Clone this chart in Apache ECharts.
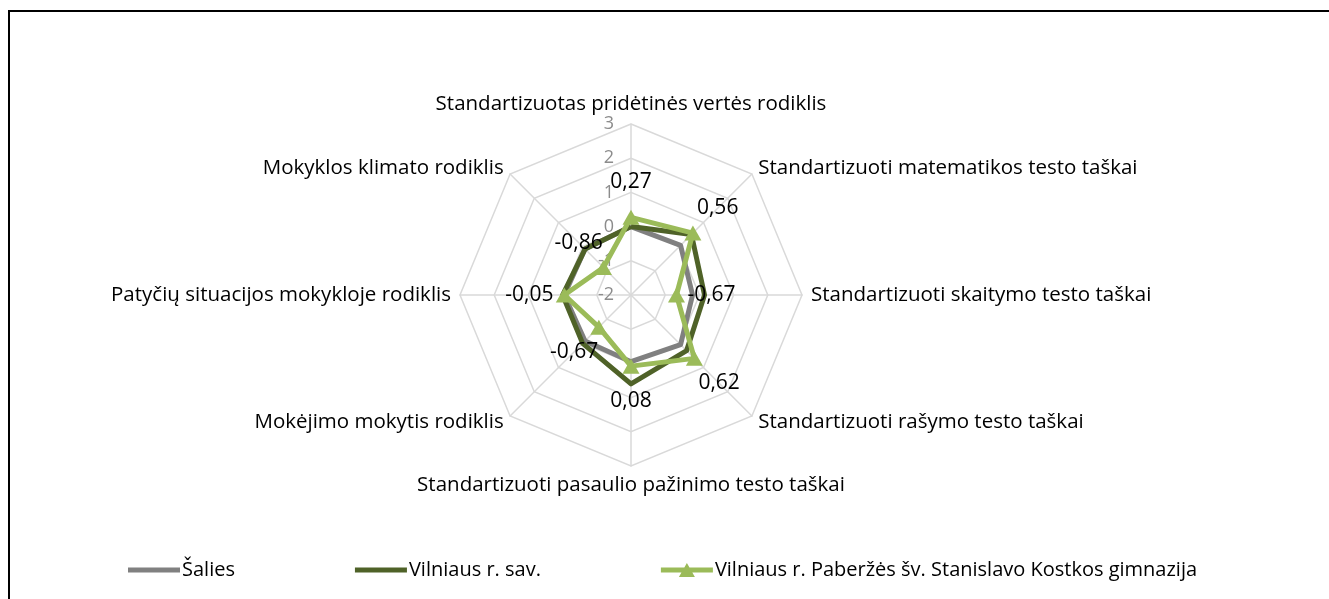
<!DOCTYPE html>
<html>
<head>
<meta charset="utf-8">
<script src="https://cdn.jsdelivr.net/npm/echarts@6/dist/echarts.min.js"></script>
<style>
  html, body { margin: 0; padding: 0; background: #fff; }
  #chart { position: absolute; left: 0; top: 0; width: 1329px; height: 599px; }
  #frame { position: absolute; left: 8px; top: 10px; width: 1400px; height: 700px;
           border: 2px solid #000; pointer-events: none; }
</style>
</head>
<body>
<div id="chart"></div>
<div id="frame"></div>
<script>
// categories in clockwise order, starting at the top (as in the source chart)
var categories = [
    'Standartizuotas pridėtinės vertės rodiklis',
    'Standartizuoti matematikos testo taškai',
    'Standartizuoti skaitymo testo taškai',
    'Standartizuoti rašymo testo taškai',
    'Standartizuoti pasaulio pažinimo testo taškai',
    'Mokėjimo mokytis rodiklis',
    'Patyčių situacijos mokykloje rodiklis',
    'Mokyklos klimato rodiklis'
];
var seriesNames = ['Šalies', 'Vilniaus r. sav.', 'Vilniaus r. Paberžės šv. Stanislavo Kostkos gimnazija'];
var salies   = [0, 0.05, -0.2, 0.05, -0.05, -0.1, -0.05, -0.1];
var rajonas  = [0, 0.5, 0.15, 0.3, 0.6, 0, 0, -0.1];
var mokykla  = [0.27, 0.56, -0.67, 0.62, 0.08, -0.67, -0.05, -0.86];
var axisMin = -2, axisMax = 3;

var CENTER = [631, 295];
var LABEL_DIST = 35;
var FONT = '"Open Sans", sans-serif';

// echarts lays radar indicators out counter-clockwise, so flip the order
function ccw(arr) {
    var out = [arr[0]];
    for (var i = arr.length - 1; i > 0; i--) out.push(arr[i]);
    return out;
}

var indicator = ccw(categories).map(function (name, i) {
    var ind = { name: name, min: axisMin, max: axisMax };
    if (i === 0) {
        ind.axisLabel = {
            show: true, color: '#8c8c8c', fontSize: 18, fontFamily: FONT,
            showMinLabel: true, showMaxLabel: true, margin: 17
        };
    }
    return ind;
});

var myChart = echarts.init(document.getElementById('chart'));
var option = {
    animation: false,
    legend: {
        left: 123,
        top: 555,
        itemWidth: 52,
        itemHeight: 14,
        itemGap: 120,
        textStyle: { color: '#000', fontSize: 20, fontFamily: FONT, padding: [0, 0, 0, -3] },
        data: [
            { name: seriesNames[0], icon: 'path://M0,0M0,14M0,4.5H52V9.5H0Z' },
            { name: seriesNames[1], icon: 'path://M0,0M0,14M0,4.5H52V9.5H0Z' },
            { name: seriesNames[2], icon: 'path://M0,0M0,14M0,4.5H52V9.5H0Z M18,14L26,0L34,14Z' }
        ]
    },
    radar: {
        center: CENTER,
        radius: 171,
        shape: 'polygon',
        splitNumber: 5,
        nameGap: 9,
        axisName: { color: '#000', fontSize: 20.5, fontFamily: FONT },
        axisLine: { lineStyle: { color: '#d9d9d9', width: 1.5 } },
        splitLine: { lineStyle: { color: '#d9d9d9', width: 1.5 } },
        splitArea: { show: false },
        axisTick: { show: false },
        axisLabel: { show: false },
        indicator: indicator
    },
    series: [{
        type: 'radar',
        labelLayout: function (p) {
            var cx = p.rect.x + p.rect.width / 2;
            var cy = p.rect.y + p.rect.height / 2;
            var dx = cx - CENTER[0], dy = cy - CENTER[1];
            var len = Math.sqrt(dx * dx + dy * dy) || 1;
            return { dx: dx / len * LABEL_DIST, dy: dy / len * LABEL_DIST };
        },
        data: [
            {
                name: seriesNames[0], value: ccw(salies), symbol: 'none',
                lineStyle: { color: '#808080', width: 5 },
                itemStyle: { color: '#808080' }
            },
            {
                name: seriesNames[1], value: ccw(rajonas), symbol: 'none',
                lineStyle: { color: '#4f6228', width: 5 },
                itemStyle: { color: '#4f6228' }
            },
            {
                name: seriesNames[2], value: ccw(mokykla), symbol: 'triangle', symbolSize: [17, 15],
                lineStyle: { color: '#9bbb59', width: 5 },
                itemStyle: { color: '#9bbb59' },
                label: {
                    show: true, position: 'inside', color: '#000', fontSize: 21, fontFamily: FONT,
                    formatter: function (p) { return String(p.value).replace('.', ','); }
                }
            }
        ]
    }]
};
myChart.setOption(option);
</script>
</body>
</html>
